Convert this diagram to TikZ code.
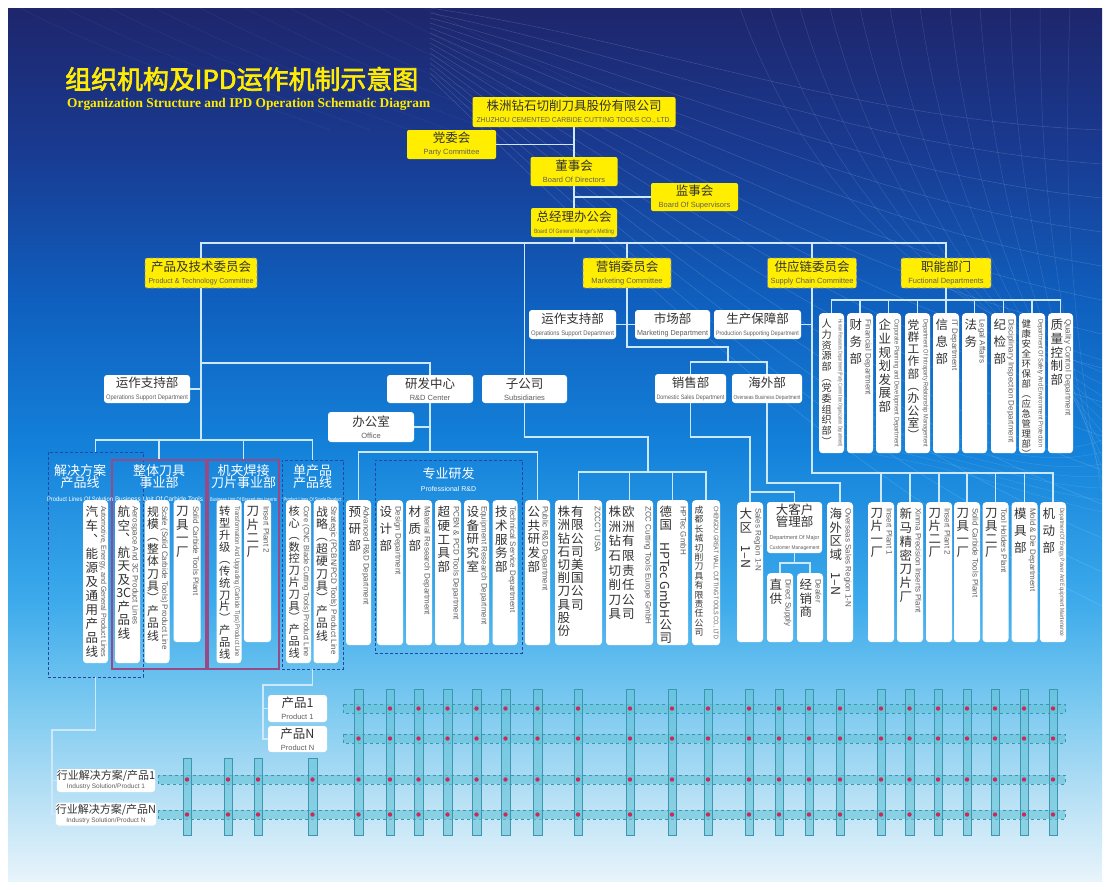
\documentclass[tikz,border=0pt]{standalone}
\usepackage{fontspec}
\usepackage{graphicx}
\setmainfont{Liberation Sans}
\newfontfamily\zh{Noto Sans CJK SC}
\newfontfamily\zhb[FakeBold=2.5]{Noto Sans CJK SC}
\newfontfamily\en{Liberation Sans}
\newfontfamily\tien{Liberation Serif}
\usetikzlibrary{positioning}

\definecolor{bga}{RGB}{232,244,251}
\definecolor{bgb}{RGB}{185,225,245}
\definecolor{bgc}{RGB}{120,200,240}
\definecolor{bgd}{RGB}{60,170,235}
\definecolor{bge}{RGB}{20,130,218}
\definecolor{bgf}{RGB}{15,95,190}
\definecolor{bgg}{RGB}{25,58,145}
\definecolor{bgh}{RGB}{30,38,108}
\pgfdeclareverticalshading{bgshade}{100bp}{color(0bp)=(bga); color(25bp)=(bga); color(29.6bp)=(bgb); color(35.4bp)=(bgc); color(41.1bp)=(bgd); color(49.7bp)=(bge); color(58.3bp)=(bgf); color(66.9bp)=(bgg); color(75bp)=(bgh); color(100bp)=(bgh)}

\definecolor{titleyellow}{RGB}{255,236,0}
\definecolor{boxyellow}{RGB}{255,238,0}
\definecolor{linecol}{RGB}{205,232,250}
\definecolor{dashnavy}{RGB}{35,70,160}
\definecolor{buframe}{RGB}{150,75,135}
\definecolor{zhtext}{RGB}{50,50,50}
\definecolor{entext}{RGB}{95,95,95}
\definecolor{barfill}{RGB}{100,195,215}
\definecolor{bardraw}{RGB}{60,150,175}
\definecolor{dotred}{RGB}{205,40,90}

% english caption, squeezed to a maximum length
\newsavebox\enbox
\newlength\enlen
\newcommand\enfit[3][8]{%
  \sbox\enbox{\en\fontsize{#1}{#1}\selectfont #3}%
  \setlength\enlen{\wd\enbox}%
  \pgfmathsetmacro\enfx{min(1,(#2)/\enlen)}%
  \pgfmathsetmacro\enfy{sqrt(\enfx)}%
  \scalebox{\enfx}[\enfy]{\usebox\enbox}}
\newcommand\zhen[3]{#1\\[-2pt]{\color{entext}\enfit[7.5]{#2}{#3}}}

% vertical chinese text
\newcommand\vstop{}
\def\vstopmac{\vstop}
\def\vstloop#1{\def\vsttmp{#1}\ifx\vsttmp\vstopmac\else\hbox to 1em{\hss#1\hss}\expandafter\vstloop\fi}
\newcommand\vst[2][13.7]{\pgfmathsetmacro\vstfs{min(12.5,#1-0.6)}%
  \vtop{\fontsize{\vstfs}{#1}\selectfont\baselineskip=#1pt\lineskiplimit=-20pt\lineskip=1pt\vstloop#2\vstop}}

\tikzset{
  conn/.style={draw=linecol, line width=1.3pt},
  ybox/.style={fill=boxyellow, rounded corners=2pt, inner sep=0pt, align=center, text=zhtext, font=\zh\fontsize{12.5}{14}\selectfont},
  ycom/.style={ybox, draw=black!40!blue!50, dashed, line width=0.6pt},
  wbox/.style={fill=white, rounded corners=3pt, inner sep=0pt, align=center, text=zhtext, font=\zh\fontsize{12.5}{14}\selectfont},
  colb/.style={fill=white, rounded corners=3.5pt, inner sep=0pt},
  zhcol/.style={inner sep=0pt, text=zhtext, font=\zh},
  encol/.style={inner sep=0pt, rotate=-90, text=entext},
  dbox/.style={draw=dashnavy, dash pattern=on 3pt off 2pt, line width=0.9pt},
  bubox/.style={draw=buframe, line width=1.1pt},
  head/.style={inner sep=0pt, align=center, text=white, font=\zh\fontsize{13}{12.5}\selectfont},
  vbar/.style={fill=barfill, fill opacity=0.6, draw=bardraw, line width=0.5pt},
  hbar/.style={fill=barfill, fill opacity=0.6, draw=bardraw, dashed, line width=0.5pt},
  reddot/.style={fill=dotred}
}

% column box: name, x, top, width, height, chinese, english
\newcommand\col[7]{%
  \node[colb, minimum width=#4, minimum height=#5, anchor=north] (#1) at (#2,#3) {};
  \node[zhcol, anchor=north west] (#1z) at ([xshift=2.5pt,yshift=-6pt]#1.north west) {#6};
  \node[encol, anchor=north west] (#1e) at ([xshift=-1.5pt,yshift=-6pt]#1.north east) {\enfit{#5-12}{#7}};}

\begin{document}
\begin{tikzpicture}[x=1pt,y=-1pt]
\useasboundingbox (0,0) rectangle (1110,889);
\fill[white] (0,0) rectangle (1110,889);
\shade[shading=bgshade] (8,8) rectangle (1102,881);
\begin{scope}
\clip (8,8) rectangle (1102,881);
\foreach \i in {0,...,14}
  \draw[white, opacity=0.16, line width=0.5pt] (430,8+\i*5) .. controls (650,40+\i*18) and (850,120+\i*26) .. (1102,130+\i*34);
\foreach \i in {0,...,11}
  \draw[white, opacity=0.13, line width=0.5pt] (740+\i*30,8) .. controls (790+\i*25,150) and (900+\i*15,300) .. (1102,360+\i*12);
\foreach \i in {0,...,6}
  \draw[white, opacity=0.12, line width=0.5pt] (820,400+\i*8) .. controls (930,420+\i*6) and (1020,470+\i*4) .. (1102,440+\i*12);
\foreach \i in {0,...,9}
  \draw[white, opacity=0.06, line width=0.5pt] (20+\i*45,8) .. controls (120+\i*45,60) and (250+\i*40,100) .. (330+\i*40,130);
\end{scope}

% title
\node[anchor=west, inner sep=0pt, text=titleyellow, font=\zhb\fontsize{25}{26}\selectfont] (title) at (65,79) {\resizebox{353pt}{!}{组织机构及IPD运作机制示意图}};
\node[anchor=west, inner sep=0pt, text=titleyellow, font=\tien\bfseries\fontsize{12.5}{13}\selectfont] (subtitle) at (67,104) {\resizebox{363pt}{!}{Organization Structure and IPD Operation Schematic Diagram}};

% top level
\node[ybox, minimum width=203, minimum height=30] (comp) at (574,112) {\zhen{株洲钻石切削刀具股份有限公司}{195}{ZHUZHOU CEMENTED CARBIDE CUTTING TOOLS CO., LTD.}};
\node[ybox, minimum width=89, minimum height=29] (party) at (451.5,144.5) {\zhen{党委会}{82}{Party Committee}};
\node[ybox, minimum width=87, minimum height=29] (board) at (574,171.5) {\zhen{董事会}{80}{Board Of Directors}};
\node[ybox, minimum width=87, minimum height=28] (superv) at (694.5,197) {\zhen{监事会}{82}{Board Of Supervisors}};
\node[ybox, minimum width=86, minimum height=29] (gm) at (574,222.5) {\zhen{总经理办公会}{80}{Board Of General Manger's Metting}};

\node[ycom, minimum width=112, minimum height=30] (ptc) at (201,273) {\zhen{产品及技术委员会}{105}{Product \& Technology Committee}};
\node[ycom, minimum width=88, minimum height=30] (mkt) at (627,273) {\zhen{营销委员会}{82}{Marketing Committee}};
\node[ycom, minimum width=89, minimum height=30] (scc) at (812,273) {\zhen{供应链委员会}{84}{Supply Chain Committee}};
\node[ycom, minimum width=90, minimum height=30] (func) at (946,273) {\zhen{职能部门}{84}{Fuctional Departments}};

% second level
\node[wbox, minimum width=86, minimum height=28] (ops1) at (147,389) {\zhen{运作支持部}{82}{Operations Support Department}};
\node[wbox, minimum width=86, minimum height=28] (rd) at (430,389) {\zhen{研发中心}{80}{R\&D Center}};
\node[wbox, minimum width=85, minimum height=28] (sub) at (524.5,389) {\zhen{子公司}{80}{Subsidiaries}};
\node[wbox, minimum width=86, minimum height=30] (off) at (371,427) {\zhen{办公室}{80}{Office}};
\node[wbox, minimum width=87, minimum height=29] (mops) at (572.5,324.5) {\zhen{运作支持部}{83}{Operations Support Department}};
\node[wbox, minimum width=75, minimum height=29] (mdep) at (672.5,324.5) {\zhen{市场部}{71}{Marketing Department}};
\node[wbox, minimum width=87, minimum height=29] (prod) at (757.5,324.5) {\zhen{生产保障部}{83}{Production Supporting Department}};
\node[wbox, minimum width=71, minimum height=29] (dom) at (690.5,388.5) {\zhen{销售部}{68}{Domestic Sales Department}};
\node[wbox, minimum width=70, minimum height=29] (ovs) at (767,388.5) {\zhen{海外部}{67}{Overseas Business Department}};
\node[wbox, minimum width=55, minimum height=51] (kam) at (794.5,527.5) {大客户\\[-2pt]管理部\\[-1pt]{\color{entext}\enfit[6]{50}{Department Of Major}}\\[-4pt]{\color{entext}\enfit[6]{50}{Customer Management}}};

% group frames
\node[dbox, minimum width=95, minimum height=225] (solbox) at (95.5,564.5) {};
\node[bubox, minimum width=94, minimum height=209] (ctbox) at (159,564.5) {};
\node[bubox, minimum width=71, minimum height=209] (btbox) at (243.5,564.5) {};
\node[dbox, minimum width=61, minimum height=209] (spbox) at (312.5,564.5) {};
\node[dbox, minimum width=147, minimum height=193] (prdbox) at (448.5,556.5) {};

\node[head, anchor=north] (solh) at (80,464) {解决方案\\产品线\\[1pt]\enfit[7]{66}{Product Lines Of Solution}};
\node[head, anchor=north] (cth) at (159,464) {整体刀具\\事业部\\[1pt]\enfit[7]{88}{Business Unit Of Carbide Tools}};
\node[head, anchor=north] (bth) at (243.5,464) {机夹焊接\\刀片事业部\\[1pt]\enfit[7]{67}{Business Unit Of Brazed-tips Inserts}};
\node[head, anchor=north] (sph) at (312.5,464) {单产品\\产品线\\[1pt]\enfit[7]{58}{Product Lines Of Single Product}};
\node[head, anchor=north] (prh) at (448.5,467) {专业研发\\[1pt]\enfit[7]{80}{Professional R\&D}};

% product line columns
\col{cauto}{95.5}{500}{25}{163}{\vst[14]{汽车︑能源及通用产品线}}{Automotive, Energy, and General Product Lines}
\col{caero}{127.5}{500}{25}{163}{\vst[13.5]{航空︑航天及{3C}产品线}}{Aerospace And 3C Product Lines}
\col{cscale}{157}{500}{25}{163}{\vst[12.4]{规模︵整体刀具︶产品线}}{Scale (Solid Carbide Tools) Product Line}
\col{csctp}{187}{500}{27}{142}{\vst[13.7]{刀具一厂}}{Solid Carbide Tools Plant}
\col{ctrans}{229}{500}{25}{163}{\vst[11.9]{转型升级︵传统刀片︶产品线}}{Transformation And Upgrading (Carbide Tips) Product Line}
\col{cinstwo}{257.5}{500}{27}{142}{\vst[13.7]{刀片二厂}}{Insert Plant 2}
\col{ccore}{298.5}{500}{25}{163}{\vst[11.8]{核心︵数控刀片刀具︶产品线}}{Core (CNC Blade Cutting Tools) Product Line}
\col{cstrat}{326}{500}{25}{163}{\vst[12.4]{战略︵超硬刀具︶产品线}}{Strategic (PCBN/PCD Tools) Product Line}

% R&D columns
\col{cadv}{358.5}{500}{25}{145}{\vst[17]{预研部}}{Advanced R\&D Department}
\col{cdes}{390}{500}{26}{145}{\vst[17]{设计部}}{Design Department}
\col{cmat}{419}{500}{26}{145}{\vst[17]{材质部}}{Material Research Department}
\col{cpcbn}{448}{500}{26}{145}{\vst[13.7]{超硬工具部}}{PCBN \& PCD Tools Department}
\col{cequip}{476.5}{500}{25}{145}{\vst[13.7]{设备研究室}}{Equipment Research Department}
\col{ctech}{505}{500}{25}{145}{\vst[13.7]{技术服务部}}{Technical Service Department}
\col{cpub}{537.5}{500}{25}{145}{\vst[13.7]{公共研发部}}{Public R\&D Department}

% subsidiaries
\col{cusa}{578.5}{500}{47}{145}{\vst[13.2]{株洲钻石切削刀具股份}\hspace{1pt}\vst[13.2]{有限公司美国公司}}{ZCCCT USA}
\col{ceu}{629.5}{500}{47}{145}{\vst[14.6]{株洲钻石切削刀具}\hspace{1pt}\vst[14.6]{欧洲有限责任公司}}{ZCC Cutting Tools Europe GmbH}
\col{chp}{672.5}{500}{31}{145}{\vst[13]{德国{\rotatebox{-90}{HPTec GmbH}}公司}}{HPTec GmbH}
\col{ccd}{706}{500}{28}{145}{\vst[9.4]{成都长城切削刀具有限责任公司}}{CHENGDU GREAT WALL CUTTING TOOLS CO., LTD}

% marketing
\col{creg}{750}{502}{26}{140}{\vst[13.5]{大区{\rotatebox{-90}{1–N}}}}{Sales Region 1-N}
\col{cdir}{780}{573}{26}{69}{\vst[13.3]{直供}}{Direct Supply}
\col{cdeal}{810}{573}{26}{69}{\vst[13.3]{经销商}}{Dealer}
\col{cosr}{840}{502}{26}{140}{\vst[13.5]{海外区域{\rotatebox{-90}{1–N}}}}{Overseas Sales Region 1-N}

% plants
\col{cip1}{881}{502}{26}{140}{\vst[13]{刀片一厂}}{Insert Plant 1}
\col{cxm}{910}{502}{26}{140}{\vst[13.8]{新马精密刀片厂}}{Xinma Precision Inserts Plant}
\col{cip2}{939}{502}{26}{140}{\vst[13]{刀片二厂}}{Insert Plant 2}
\col{cstp}{967}{502}{26}{140}{\vst[13]{刀具一厂}}{Solid Carbide Tools Plant}
\col{cthp}{995.5}{502}{26}{140}{\vst[13]{刀具二厂}}{Tool Holders Plant}
\col{cmold}{1024.5}{502}{26}{140}{\vst[17]{模具部}}{Mold \& Die Department}
\col{cmach}{1053}{502}{26}{140}{\vst[17]{机动部}}{Department Of Energy, Power And Equipment Maintenance}

% functional departments
\col{fhr}{831.5}{313}{25}{140}{\vst[10.7]{人力资源部︵党委组织部︶}}{Human Resources Department (Party Committee Organization Department)}
\col{ffin}{860}{313}{26}{140}{\vst[17]{财务部}}{Financial Department}
\col{fplan}{888.5}{313}{25}{140}{\vst[13.6]{企业规划发展部}}{Corporate Planning and Development Department}
\col{fparty}{917.5}{313}{25}{140}{\vst[12.3]{党群工作部︵办公室︶}}{Department Of Intraparty Relationship Management}
\col{fit}{946}{313}{26}{140}{\vst[17]{信息部}}{IT Department}
\col{flegal}{974.5}{313}{25}{140}{\vst[17]{法务}}{Legal Affairs}
\col{fdisc}{1003.5}{313}{25}{140}{\vst[17]{纪检部}}{Disciplinary Inspection Department}
\col{fhse}{1032}{313}{26}{140}{\vst[10]{健康安全环保部︵应急管理部︶}}{Department Of Safety And Environment Protection}
\col{fqc}{1060.5}{313}{25}{140}{\vst[13.7]{质量控制部}}{Quality Control Department}

% products and industry solutions
\node[wbox, minimum width=59, minimum height=27] (prod1) at (297.5,708.5) {\zhen{产品1}{55}{Product 1}};
\node[wbox, minimum width=59, minimum height=26] (prodN) at (297.5,739) {\zhen{产品N}{55}{Product N}};
\node[wbox, minimum width=98, minimum height=23, font=\zh\fontsize{11}{12}\selectfont] (ind1) at (106,780.5) {行业解决方案/产品1\\[-3pt]{\color{entext}\enfit[6.5]{90}{Industry Solution/Product 1}}};
\node[wbox, minimum width=98, minimum height=23, font=\zh\fontsize{11}{12}\selectfont] (indN) at (106,814) {行业解决方案/产品N\\[-3pt]{\color{entext}\enfit[6.5]{90}{Industry Solution/Product N}}};

% connectors
\coordinate (bus) at (574,243);
\coordinate (j1) at (201,363);
\coordinate (lb) at (201,440);
\coordinate (rdb) at (430,452);
\coordinate (sbk) at (648,437);
\coordinate (sbb) at (648,472);
\coordinate (mk1) at (627,347);
\coordinate (mk2) at (728,362);
\coordinate (dk) at (750,437);
\coordinate (kj) at (750,492);
\coordinate (ok) at (840,483);
\coordinate (kb) at (794.5,563);
\coordinate (scb) at (812,473);
\coordinate (fb) at (946,300);
\coordinate (ik) at (52,730);
\coordinate (pk) at (263,685);

\draw[conn] (comp) -- (board);
\draw[conn] (board) -- (gm);
\draw[conn] (party.east) -- (party.east -| comp.south);
\draw[conn] (superv.west) -- (superv.west -| board.south);
\draw[conn] (gm.south) -- (bus);
\draw[conn] (ptc.north) |- (bus) -| (func.north);
\draw[conn] (mkt.north) -- (mkt.north |- bus);
\draw[conn] (scc.north) -- (scc.north |- bus);
\draw[conn] (sub.north) -- (sub.north |- bus);

\draw[conn] (ptc.south) -- (lb);
\draw[conn] (j1) -| (rd.north);
\draw[conn] (ops1.east) -- (ops1.east -| lb);
\draw[conn] (solbox.north) |- (lb) -| (spbox.north);
\draw[conn] (ctbox.north) -- (ctbox.north |- lb);
\draw[conn] (btbox.north) -- (btbox.north |- lb);
\draw[conn] (rd.south) -- (rdb);
\draw[conn] (off.east) -- (off.east -| rdb);
\draw[conn] (cadv.north) |- (rdb) -| (cpub.north);

\draw[conn] (sub.south) |- (sbk) -- (sbb);
\draw[conn] (cusa.north) |- (sbb) -| (ccd.north);
\draw[conn] (ceu.north) -- (ceu.north |- sbb);
\draw[conn] (chp.north) -- (chp.north |- sbb);

\draw[conn] (mkt.south) -- (mk1) -| (mk2);
\draw[conn] (mops.east) -- (mdep.west);
\draw[conn] (dom.north) |- (mk2) -| (ovs.north);
\draw[conn] (dom.south) |- (dk) -- (creg.north);
\draw[conn] (kj) -| (kam.north);
\draw[conn] (ovs.south) |- (ok) -- (cosr.north);
\draw[conn] (kam.south) -- (kb);
\draw[conn] (cdir.north) |- (kb) -| (cdeal.north);

\draw[conn] (scc.south) -- (scb) -| (cmach.north);
\draw[conn] (prod.east) -- (prod.east -| scb);
\foreach \c in {cip1,cxm,cip2,cstp,cthp,cmold}
  \draw[conn] (\c.north) -- (\c.north |- scb);

\draw[conn] (func.south) -- (fb) -- (fit.north);
\draw[conn] (fhr.north) |- (fb) -| (fqc.north);
\foreach \c in {ffin,fplan,fparty,flegal,fdisc,fhse}
  \draw[conn] (\c.north) -- (\c.north |- fb);

\draw[conn] (solbox.south) |- (ik) |- (indN.west);
\draw[conn] (ik |- ind1.west) -- (ind1.west);
\draw[conn] (spbox.south) |- (pk) |- (prodN.west);
\draw[conn] (pk |- prod1.west) -- (prod1.west);

% IPD grid
\foreach \y in {708.5,738.5}
  \draw[hbar] (343,\y-4.5) rectangle (1065,\y+4.5);
\foreach \y in {779.5,814.5}
  \draw[hbar] (158,\y-4.5) rectangle (1065,\y+4.5);
\foreach \x in {187,228,258,312.5}{
  \draw[vbar] (\x-4.25,758) rectangle (\x+4.25,835);
  \foreach \y in {779.5,814.5} \fill[reddot] (\x,\y) circle (2.2);
}
\foreach \x in {358.5,390,418.5,447.5,476.5,505.5,537.5,578,630,672,708,749,779,809,840,881,909.5,938,967,995,1024,1053}{
  \draw[vbar] (\x-4.25,689) rectangle (\x+4.25,835);
  \foreach \y in {708.5,738.5,779.5,814.5} \fill[reddot] (\x,\y) circle (2.2);
}
\end{tikzpicture}
\end{document}
